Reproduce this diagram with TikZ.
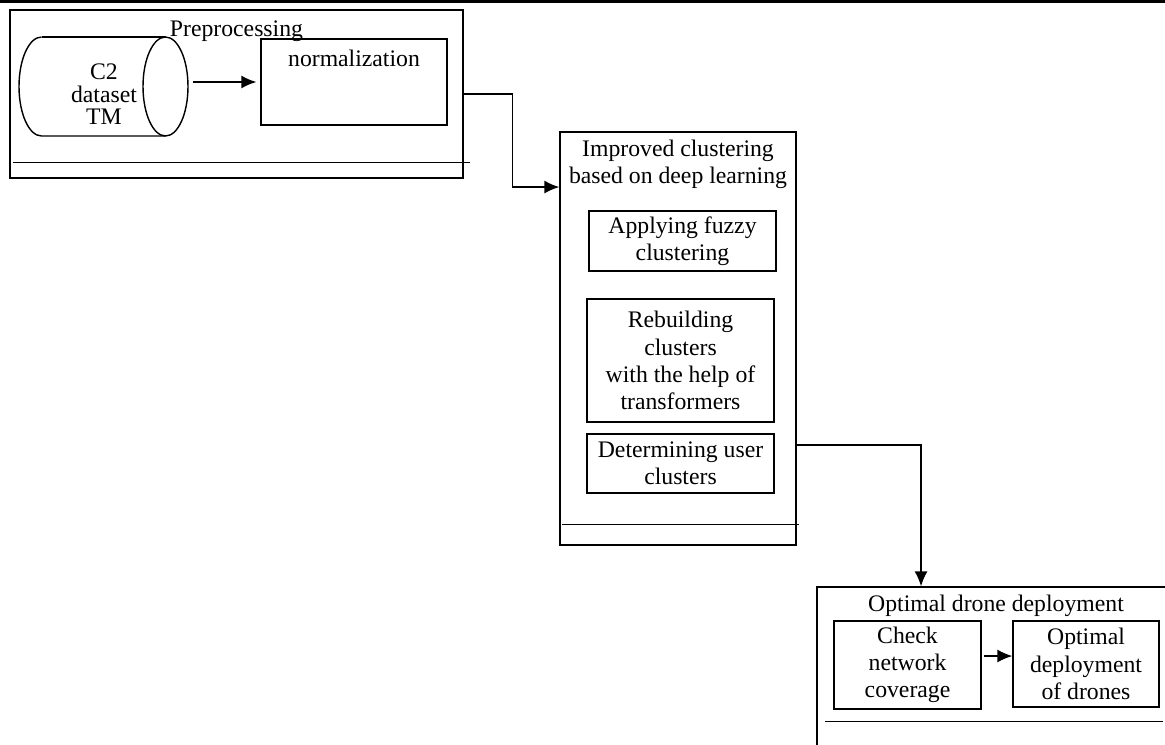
\documentclass[tikz,border=0pt]{standalone}
\usepackage{fontspec}
\setmainfont{Liberation Serif}
\usetikzlibrary{arrows.meta,calc}

\begin{document}
\begin{tikzpicture}[x=0.02cm,y=-0.02cm,thick,
    font=\fontsize{13.5pt}{15.5pt}\selectfont,
    box/.style={draw,rectangle,align=center,inner sep=1pt},
    group/.style={draw,rectangle},
    title/.style={anchor=north,align=center,inner sep=0pt,yshift=#1},
    title/.default=-0.16cm,
    arr/.style={-{Latex[length=0.3cm,width=0.26cm]}}]
    \clip (0,0) rectangle (1165,744);
    \draw[line width=2pt] (0,1.5) -- (1165,1.5);

    \node[group,minimum width=9.06cm,minimum height=3.36cm,label={[title=-0.22cm]north:Preprocessing}] (pre) at (236.5,94) {};
    \node[align=center,inner sep=0pt,font=\fontsize{13.5pt}{12.8pt}\selectfont] (data) at (104,94.5) {C2\\dataset\\TM};
    \draw (41.5,37) arc[start angle=90,end angle=270,x radius=0.45cm,y radius=0.99cm] -- (165.5,136);
    \draw (41.5,37) -- (165.5,37);
    \draw (165.5,86.5) ellipse [x radius=0.45cm,y radius=0.99cm];
    \coordinate (datatip) at (193,82);
    \node[group,minimum width=3.72cm,minimum height=1.72cm,label={[title=-0.22cm]north:normalization}] (norm) at (354,82) {};

    \node[group,minimum width=4.72cm,minimum height=8.26cm,label={[title]north:{Improved clustering\\based on deep learning}}] (clust) at (678,338.5) {};
    \node[box,minimum width=3.74cm,minimum height=1.2cm] (fuzzy) at (682.5,241) {Applying fuzzy\\clustering};
    \node[box,minimum width=3.74cm,minimum height=2.46cm] (rebuild) at (680.5,360.5) {Rebuilding\\clusters\\with the help of\\transformers};
    \node[box,minimum width=3.74cm,minimum height=1.18cm] (users) at (680.5,463.5) {Determining user\\clusters};

    \node[group,minimum width=7.16cm,minimum height=3.66cm,label={[title]north:Optimal drone deployment}] (deploy) at (996,678.5) {};
    \node[box,minimum width=2.94cm,minimum height=1.76cm] (check) at (907.5,665) {Check\\network\\coverage};
    \node[box,minimum width=2.92cm,minimum height=1.72cm] (opt) at (1086,664) {Optimal\\deployment\\of drones};

    \draw ($(pre.south west)+(4,-16)$) -- ($(pre.south east)+(6,-16)$);
    \draw ($(clust.south west)+(3,-21)$) -- ($(clust.south east)+(2,-21)$);
    \draw ($(deploy.north west)+(9,135)$) -- ($(deploy.north east)+(-13,135)$);

    \draw[arr,shorten >=0.08cm] (datatip) -- (datatip -| norm.west);
    \draw[arr] (pre.east) -- ++(49,0) |- ([yshift=3.03cm]clust.west);
    \draw[arr] ([yshift=-2.13cm]clust.east) -| ([xshift=-1.5cm]deploy.north);
    \draw[arr,shorten <=0.04cm] ([yshift=0.18cm]check.east) -- ([yshift=0.18cm]check.east -| opt.west);
\end{tikzpicture}
\end{document}
